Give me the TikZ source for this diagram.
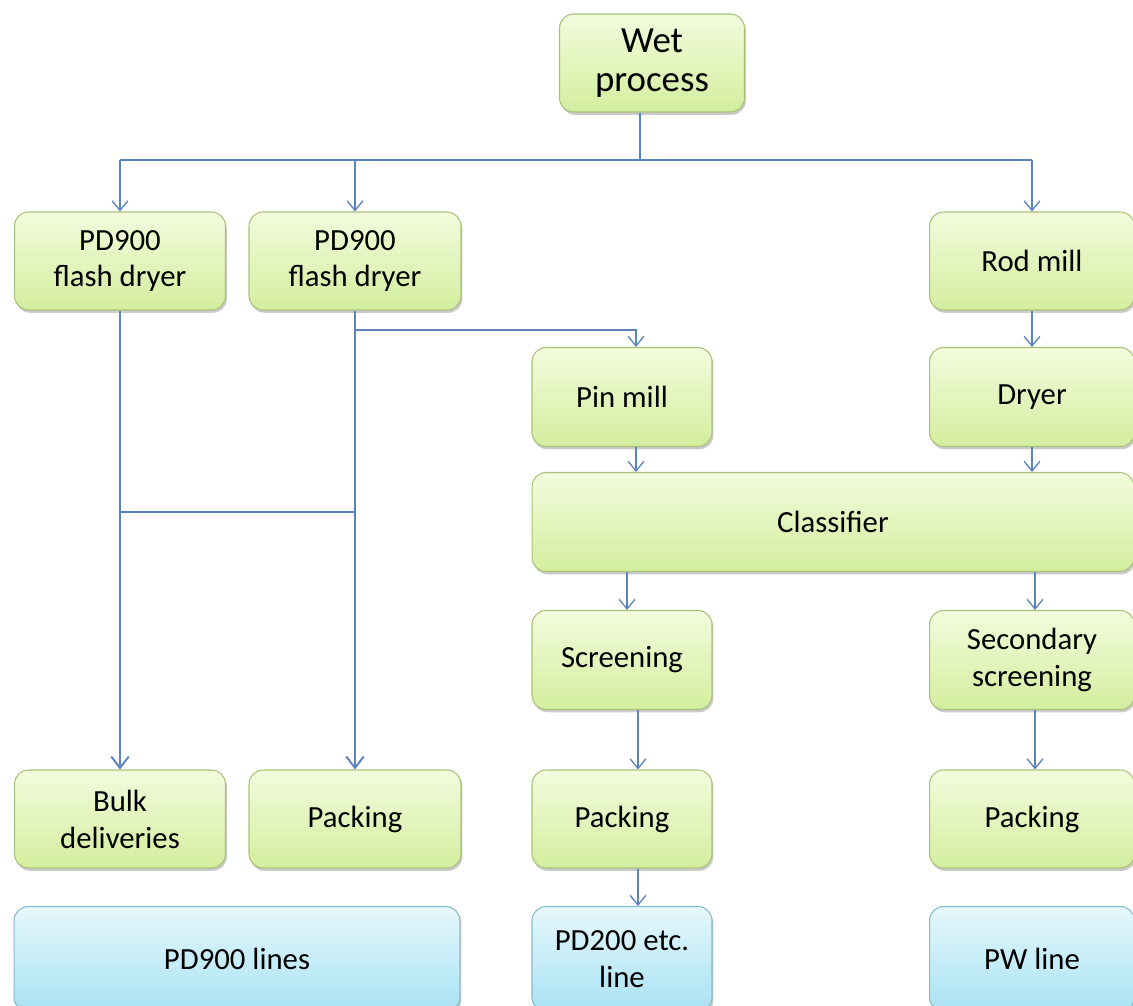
\documentclass[tikz,border=0pt]{standalone}
\usepackage{fontspec}
\setmainfont{Carlito}
\usetikzlibrary{arrows.meta,shadows}

\definecolor{gtop}{HTML}{F3FBDD}
\definecolor{gbot}{HTML}{D3EE9E}
\definecolor{gline}{HTML}{A9C27A}
\definecolor{btop}{HTML}{E6F8FC}
\definecolor{bbot}{HTML}{A9E2F4}
\definecolor{bline}{HTML}{86B9CF}
\definecolor{flow}{HTML}{5B84BE}

\tikzset{
  procbox/.style={rectangle, rounded corners=8pt, line width=0.6pt,
    inner sep=0pt, align=center, text=black,
    font=\fontsize{17.5}{21}\selectfont,
    drop shadow={shadow xshift=0.8pt, shadow yshift=-1.6pt, opacity=0.35, fill=black!60}},
  stage/.style={procbox, draw=gline, top color=gtop, bottom color=gbot},
  product/.style={procbox, draw=bline, top color=btop, bottom color=bbot},
  flowline/.style={draw=flow, line width=0.75pt},
  flowarrow/.style={flowline, -{Straight Barb[length=5.5pt,width=9pt,line width=0.75pt]}},
  mainarrow/.style={draw=flow, line width=1.3pt, -{Straight Barb[length=6.5pt,width=10pt,line width=1.1pt]}},
  mainline/.style={draw=flow, line width=1.3pt}
}

\begin{document}
\begin{tikzpicture}[x=0.02cm, y=-0.02cm]
  \useasboundingbox (0,0) rectangle (1133,1005);
  \clip (0,0) rectangle (1133,1005);

  % process stages
  \node[stage, minimum width=3.7cm, minimum height=1.96cm,
        font=\fontsize{21}{22}\selectfont] (wet) at (652,63) {Wet\\process};

  \node[stage, minimum width=4.22cm, minimum height=1.96cm] (fd1) at (120,261) {PD900\\flash dryer};
  \node[stage, minimum width=4.24cm, minimum height=1.96cm] (fd2) at (355,261) {PD900\\flash dryer};
  \node[stage, minimum width=4.1cm,  minimum height=1.96cm] (rod) at (1032,261) {Rod mill};

  \node[stage, minimum width=3.6cm,  minimum height=1.98cm] (pin) at (622,397) {Pin mill};
  \node[stage, minimum width=4.1cm,  minimum height=1.98cm] (dry) at (1032,397) {Dryer};

  \node[stage, minimum width=12.04cm, minimum height=1.98cm] (cls) at (833,522) {Classifier};

  \node[stage, minimum width=3.6cm,  minimum height=1.98cm] (scr) at (622,660) {Screening};
  \node[stage, minimum width=4.1cm,  minimum height=1.98cm] (sec) at (1032,660) {Secondary\\screening};

  \node[stage, minimum width=4.22cm, minimum height=1.96cm] (bulk) at (120,819) {Bulk\\deliveries};
  \node[stage, minimum width=4.24cm, minimum height=1.96cm] (pk1)  at (355,819) {Packing};
  \node[stage, minimum width=3.6cm,  minimum height=1.96cm] (pk2)  at (622,819) {Packing};
  \node[stage, minimum width=4.1cm,  minimum height=1.96cm] (pk3)  at (1032,819) {Packing};

  % product lines
  \node[product, minimum width=8.92cm, minimum height=2.1cm] (l900) at (237,959) {PD900 lines};
  \node[product, minimum width=3.6cm,  minimum height=2.1cm] (l200) at (622,959) {PD200 etc.\\line};
  \node[product, minimum width=4.1cm,  minimum height=2.1cm] (lpw)  at (1032,959) {PW line};

  % distribution from the wet process
  \coordinate (split) at (640,160);
  \draw[flowline] (wet.south -| split) -- (split);
  \draw[flowline] (split -| fd1.north) -- (split -| rod.north);
  \draw[flowarrow] (split -| fd1.north) -- (fd1.north);
  \draw[flowarrow] (split -| fd2.north) -- (fd2.north);
  \draw[flowarrow] (split -| rod.north) -- (rod.north);

  % flash dryer outputs
  \coordinate (cross) at (0,512);
  \draw[mainarrow] (fd1.south) -- (bulk.north);
  \draw[mainarrow] (fd2.south) -- (pk1.north);
  \draw[mainline] (fd1.south |- cross) -- (fd2.south |- cross);
  \coordinate (pinfeed) at (0,330);
  \draw[flowarrow] (fd2.south |- pinfeed) -| ([xshift=0.28cm]pin.north);

  % right branch
  \draw[flowarrow] (rod.south) -- (dry.north);
  \draw[flowarrow] (dry.south) -- (dry.south |- cls.north);
  \draw[flowarrow] ([xshift=0.28cm]pin.south) -- ([xshift=0.28cm]pin.south |- cls.north);

  % classifier outputs
  \draw[flowarrow] ([xshift=0.1cm]scr.north |- cls.south) -- ([xshift=0.1cm]scr.north);
  \draw[flowarrow] ([xshift=0.06cm]sec.north |- cls.south) -- ([xshift=0.06cm]sec.north);

  % to packing
  \draw[flowarrow] ([xshift=0.32cm]scr.south) -- ([xshift=0.32cm]pk2.north);
  \draw[flowarrow] ([xshift=0.06cm]sec.south) -- ([xshift=0.06cm]pk3.north);
  \draw[flowarrow] ([xshift=0.32cm]pk2.south) -- ([xshift=0.32cm]l200.north);
\end{tikzpicture}
\end{document}
